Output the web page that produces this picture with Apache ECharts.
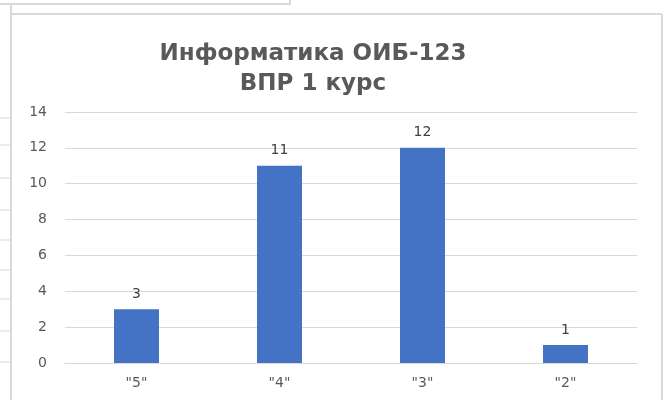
<!DOCTYPE html>
<html>
<head>
<meta charset="utf-8">
<script src="https://cdn.jsdelivr.net/npm/echarts@6/dist/echarts.min.js"></script>
<style>html,body{margin:0;padding:0;background:#fff;}#c{width:667px;height:400px;}</style>
</head>
<body>
<div id="c"></div>
<script>
const categories = ['"5"', '"4"', '"3"', '"2"'];
const values = [3, 11, 12, 1];
const titleText = 'Информатика ОИБ-123\nВПР 1 курс';
const yMin = 0, yMax = 14, yStep = 2;

const chart = echarts.init(document.getElementById('c'), null, {renderer: 'canvas'});
const gray = '#d9d9d9';
const font = 'DejaVu Sans';
const leftTicks = [118, 145, 178, 210, 240, 270, 299, 331, 362];
const graphics = [
  {type: 'line', shape: {x1: 0, y1: 4, x2: 290, y2: 4}, style: {stroke: gray, lineWidth: 2}, silent: true},
  {type: 'line', shape: {x1: 290, y1: 0, x2: 290, y2: 5}, style: {stroke: gray, lineWidth: 2}, silent: true},
  {type: 'line', shape: {x1: 11, y1: 4, x2: 11, y2: 400}, style: {stroke: gray, lineWidth: 2}, silent: true},
  {type: 'line', shape: {x1: 11, y1: 14, x2: 662, y2: 14}, style: {stroke: gray, lineWidth: 2}, silent: true},
  {type: 'line', shape: {x1: 662, y1: 14, x2: 662, y2: 400}, style: {stroke: gray, lineWidth: 2}, silent: true}
];
leftTicks.forEach(y => graphics.push({type: 'line', shape: {x1: 0, y1: y, x2: 10, y2: y}, style: {stroke: gray, lineWidth: 1}, silent: true}));

chart.setOption({
  animation: false,
  backgroundColor: '#fff',
  title: {
    text: titleText,
    left: 308,
    top: 34,
    textAlign: 'center',
    textStyle: {fontFamily: font, fontWeight: 'bold', fontSize: 23, color: '#595959', lineHeight: 30}
  },
  grid: {left: 65, right: 30, top: 112, bottom: 37, containLabel: false},
  xAxis: {
    type: 'category',
    data: categories,
    axisLine: {lineStyle: {color: gray, width: 1}},
    axisTick: {show: false},
    axisLabel: {color: '#595959', fontSize: 14, fontFamily: font, margin: 13}
  },
  yAxis: {
    type: 'value',
    min: yMin, max: yMax, interval: yStep,
    axisLine: {show: false},
    axisTick: {show: false},
    splitLine: {lineStyle: {color: gray, width: 1}},
    axisLabel: {color: '#595959', fontSize: 14, fontFamily: font, margin: 18}
  },
  series: [{
    type: 'bar',
    data: values,
    barWidth: 45,
    itemStyle: {color: '#4472C4'},
    label: {show: true, position: 'top', color: '#404040', fontSize: 14, fontFamily: font, distance: 8}
  }],
  graphic: graphics
});
</script>
</body>
</html>
